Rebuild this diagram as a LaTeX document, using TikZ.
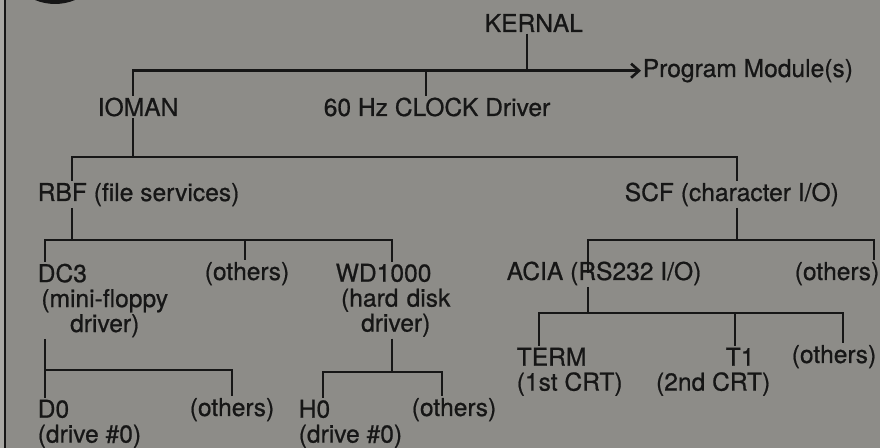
\documentclass[tikz,border=0pt]{standalone}
\usepackage{fontspec}
\setmainfont{TeX Gyre Heros}
\newfontfamily\scanfont{TeX Gyre Heros}[FakeBold=0.7]
\usetikzlibrary{arrows.meta,calc}
\definecolor{paper}{HTML}{8D8C88}
\definecolor{edge}{HTML}{A9A8A4}
\definecolor{ink}{HTML}{161616}

\begin{document}
\begin{tikzpicture}[x=0.02cm,y=-0.02cm,
  t/.style={inner sep=0pt,outer sep=1pt,text=ink,font=\scanfont\fontsize{14}{14.2}\selectfont,anchor=base west},
  m/.style={t,anchor=north west,align=center},
  ln/.style={draw=ink,line width=1.5pt},
  ar/.style={ln,-{Straight Barb[length=4.5pt,width=8pt]}}]
  % page
  \fill[paper] (0,0) rectangle (880,448);
  \useasboundingbox (0,0) rectangle (880,448);
  \fill[edge] (0,0) rectangle (4,448);
  \draw[ln] (5,0) -- (5,448);
  \begin{scope}
    \clip (0,0) rectangle (880,448);
    \fill[ink] (55,-48) circle (1.04cm);
  \end{scope}
  % modules
  \node[t] (kernal) at (483,32) {KERNAL};
  \node[t] (prog) at (641,77) {Program Module(s)};
  \node[t] (ioman) at (96,116) {IOMAN};
  \node[t] (clock) at (322,116) {60 Hz CLOCK Driver};
  \node[t] (rbf) at (36,201) {RBF (file services)};
  \node[t] (scf) at (623,201) {SCF (character I/O)};
  \node[m,text width=2.68cm] (dc3) at (36,262) {DC3\hfill\null\\(mini-floppy\\driver)};
  \node[t] (oth1) at (203,280) {(others)};
  \node[m,text width=2.4cm] (wd) at (334,262) {WD1000\hfill\null\\(hard disk\\driver)};
  \node[t] (acia) at (505,280) {ACIA (RS232 I/O)};
  \node[t] (oth2) at (793,280) {(others)};
  \node[m,align=left] (term) at (515,346) {TERM\\(1st CRT)};
  \node[m,align=right,anchor=north east] (t1) at (772,346) {T1\kern.64em\\(2nd CRT)};
  \node[t] (oth5) at (790,363) {(others)};
  \node[m,align=left] (d0) at (36,398) {D0\\(drive \#0)};
  \node[t] (oth3) at (188,416) {(others)};
  \node[m,align=left] (h0) at (297,398) {H0\\(drive \#0)};
  \node[t] (oth4) at (410,416) {(others)};
  % kernal bus
  \coordinate (k0) at (527,70);
  \coordinate (k1) at (133,70);
  \coordinate (k2) at (426,70);
  \draw[ln] (kernal.south -| k0) -- (k0);
  \draw[ar] (ioman.north -| k1) |- (prog.west);
  \draw[ln] (clock.north -| k2) -- (k2);
  % ioman bus
  \coordinate (i0) at (133,157);
  \coordinate (i1) at (72,157);
  \coordinate (i2) at (737,157);
  \draw[ln] (ioman.south -| i0) -- (i0);
  \draw[ln] (rbf.north -| i1) |- (i0) -| (scf.north -| i2);
  % rbf bus
  \coordinate (r0) at (72,240);
  \coordinate (r1) at (45,240);
  \coordinate (r2) at (245,240);
  \coordinate (r3) at (392,240);
  \draw[ln] (rbf.south -| r0) -- (r0);
  \draw[ln] (dc3.north -| r1) |- (r3) -- (wd.north -| r3);
  \draw[ln] (r2) -- (oth1.north -| r2);
  % scf bus
  \coordinate (s0) at (737,240);
  \coordinate (s1) at (588,240);
  \coordinate (s2) at (874,240);
  \draw[ln] (scf.south -| s0) -- (s0);
  \draw[ln] (acia.center -| s1) |- (s2) -- (oth2.north -| s2);
  % acia bus
  \coordinate (a0) at (588,313);
  \coordinate (a1) at (539,313);
  \coordinate (a2) at (735,313);
  \coordinate (a3) at (843,313);
  \draw[ln] (acia.south -| a0) -- (a0);
  \draw[ln] (term.north -| a1) |- (a3) -- (oth5.north -| a3);
  \draw[ln] (a2) -- (t1.north -| a2);
  % dc3 bus
  \coordinate (f0) at (45,370);
  \coordinate (f1) at (232,370);
  \draw[ln] (dc3.south -| f0) -- (d0.north -| f0);
  \draw[ln] (f0) -- (f1) -- (oth3.north -| f1);
  % wd1000 bus
  \coordinate (w0) at (392,372);
  \coordinate (w1) at (323,372);
  \coordinate (w2) at (442,372);
  \draw[ln] (wd.south -| w0) -- (w0);
  \draw[ln] (h0.north -| w1) |- (w2) -- (oth4.north -| w2);
\end{tikzpicture}
\end{document}
